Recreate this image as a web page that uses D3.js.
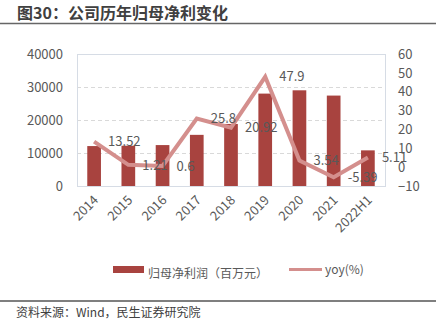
<!DOCTYPE html>
<html><head><meta charset="utf-8">
<script src="https://cdn.jsdelivr.net/npm/d3@7"></script>
<style>
body{margin:0;background:#fff;}
svg{display:block;font-family:"Noto Sans CJK SC","Noto Sans",sans-serif;}
</style></head>
<body><svg id="c" width="436" height="327"></svg>
<script>
const categories = ["2014","2015","2016","2017","2018","2019","2020","2021","2022H1"];
const profit = [12100, 12200, 12400, 15500, 18800, 28000, 29000, 27400, 10800];
const yoy = [13.52, 1.21, 0.6, 25.8, 20.92, 47.9, 3.54, -5.39, 5.11];
const leftTicks = [0, 10000, 20000, 30000, 40000];
const rightTicks = [-10, 0, 10, 20, 30, 40, 50, 60];

const svg = d3.select("#c");
const L = 77, R = 385, T = 54, B = 186;
const x = d3.scaleBand().domain(categories).range([L, R]).paddingInner(0.6).paddingOuter(0.3);
const xc = d => x(d) + x.bandwidth() / 2;
const yL = d3.scaleLinear().domain([0, 40000]).range([B, T]);
const yR = d3.scaleLinear().domain([-10, 60]).range([B, T]);

// title
svg.append("text").attr("x", 17).attr("y", 19).attr("font-size", 16).attr("font-weight", "bold")
  .attr("fill", "#404040").text("图30：公司历年归母净利变化");
svg.append("line").attr("x1", 0).attr("x2", 436).attr("y1", 23.5).attr("y2", 23.5)
  .attr("stroke", "#666").attr("stroke-width", 1.5);

// grid
svg.append("g").selectAll("line").data([10000, 20000, 30000]).join("line")
  .attr("x1", L).attr("x2", R).attr("y1", d => Math.round(yL(d)) + 0.5).attr("y2", d => Math.round(yL(d)) + 0.5)
  .attr("stroke", "#d9d9d9").attr("stroke-dasharray", "4,3");

// frame
svg.append("rect").attr("x", L + 0.5).attr("y", T + 0.5).attr("width", R - L).attr("height", B - T)
  .attr("fill", "none").attr("stroke", "#d6dce5").attr("stroke-width", 1);

// left axis
const gl = svg.append("g").attr("transform", `translate(${L},0)`)
  .call(d3.axisLeft(yL).tickValues(leftTicks).tickSize(0).tickPadding(14).tickFormat(d3.format("d")));
gl.select(".domain").remove();
gl.selectAll("text").attr("font-size", 13).attr("fill", "#595959").attr("font-family", "Noto Sans CJK SC");

// right axis
const gr = svg.append("g").attr("transform", `translate(${R},0)`)
  .call(d3.axisRight(yR).tickValues(rightTicks).tickSize(0).tickPadding(13).tickFormat(d3.format("d")));
gr.select(".domain").remove();
gr.selectAll("text").attr("font-size", 13).attr("fill", "#595959").attr("font-family", "Noto Sans CJK SC");

// x axis
const gx = svg.append("g").attr("transform", `translate(0,${B})`)
  .call(d3.axisBottom(x).tickSize(0).tickPadding(0));
gx.select(".domain").remove();
gx.selectAll("text").attr("font-size", 13).attr("fill", "#595959").attr("font-family", "Noto Sans CJK SC")
  .attr("text-anchor", "end").attr("dy", 0)
  .attr("transform", "translate(5,15) rotate(-45)");

// bars
svg.append("g").selectAll("rect").data(categories).join("rect")
  .attr("x", d => x(d)).attr("width", x.bandwidth())
  .attr("y", (d, i) => yL(profit[i])).attr("height", (d, i) => yL(0) - yL(profit[i]))
  .attr("fill", "#a8433f");

// line
const line = d3.line().x((d, i) => xc(categories[i])).y(d => yR(d));
svg.append("path").datum(yoy).attr("d", line).attr("fill", "none")
  .attr("stroke", "#d48f8d").attr("stroke-width", 4).attr("stroke-linejoin", "miter");

// labels
svg.append("g").selectAll("text").data(yoy).join("text")
  .attr("x", (d, i) => xc(categories[i]) + 14).attr("y", d => yR(d)).attr("dy", "0.36em")
  .attr("font-size", 13).attr("fill", "#595959").text(d => d);

// legend
svg.append("rect").attr("x", 113).attr("y", 266).attr("width", 31).attr("height", 7).attr("fill", "#a8433f");
svg.append("text").attr("x", 148).attr("y", 278).attr("font-size", 12).attr("fill", "#595959").text("归母净利润（百万元）");
svg.append("line").attr("x1", 289).attr("x2", 322).attr("y1", 269.5).attr("y2", 269.5)
  .attr("stroke", "#d48f8d").attr("stroke-width", 3);
svg.append("text").attr("x", 325).attr("y", 274).attr("font-size", 12).attr("fill", "#595959").text("yoy(%)");

// footer
svg.append("line").attr("x1", 0).attr("x2", 436).attr("y1", 301).attr("y2", 301)
  .attr("stroke", "#555").attr("stroke-width", 1.5);
svg.append("text").attr("x", 16).attr("y", 317).attr("font-size", 12).attr("fill", "#404040")
  .text("资料来源：Wind，民生证券研究院");
</script></body></html>
